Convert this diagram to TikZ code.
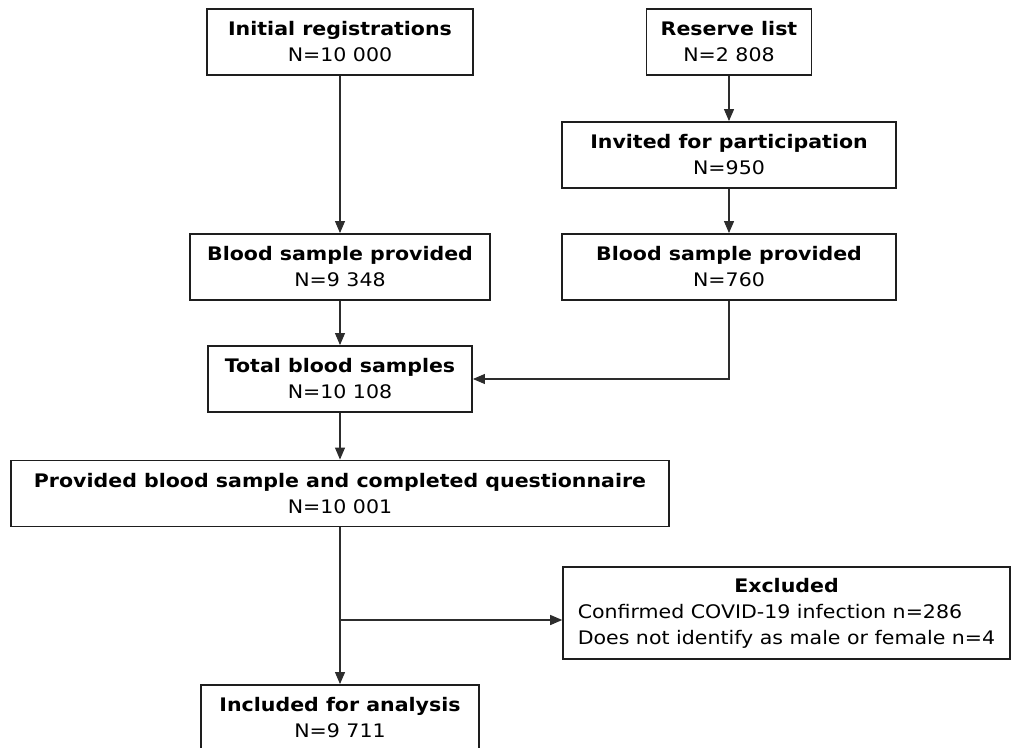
\documentclass[tikz,border=0pt]{standalone}
\usepackage{fontspec}
\setmainfont{DejaVu Sans}[FakeStretch=1.1]
\usetikzlibrary{arrows.meta}
\definecolor{boxline}{RGB}{30,30,30}
\definecolor{conline}{RGB}{45,45,45}
\tikzset{
  box/.style={draw=boxline,line width=1.4pt,align=center,inner sep=0pt,minimum height=49.5pt,font=\fontsize{14}{19.5}\selectfont},
  arr/.style={conline,line width=0.8pt,-{Triangle[length=9pt,width=7.5pt]}},
  con/.style={conline,line width=0.8pt},
  every picture/.style={x=0.75pt,y=-0.75pt}
}
\begin{document}
\begin{tikzpicture}
  \useasboundingbox (0,0) rectangle (1019,748);
  \node[box,minimum width=199.5pt] (init) at (340,42) {\textbf{Initial registrations}\\N=10 000};
  \node[box,minimum width=123.75pt] (reserve) at (729,42) {\textbf{Reserve list}\\N=2 808};
  \node[box,minimum width=250.5pt] (invited) at (729,155) {\textbf{Invited for participation}\\N=950};
  \node[box,minimum width=225pt] (bloodl) at (340,267) {\textbf{Blood sample provided}\\N=9 348};
  \node[box,minimum width=250.5pt] (bloodr) at (729,267) {\textbf{Blood sample provided}\\N=760};
  \node[box,minimum width=198pt] (total) at (340,379) {\textbf{Total blood samples}\\N=10 108};
  \node[box,minimum width=493.5pt] (provided) at (340,493.5) {\textbf{Provided blood sample and completed questionnaire}\\N=10 001};
  \node[box,minimum width=335pt,minimum height=69pt] (excluded) at (786.5,613) {\begin{tabular}{@{}l@{}}\multicolumn{1}{@{}c@{}}{\textbf{Excluded}}\\Confirmed COVID-19 infection n=286\\Does not identify as male or female n=4\end{tabular}};
  \node[box,minimum width=208.5pt] (included) at (340,718) {\textbf{Included for analysis}\\N=9 711};
  \coordinate (split) at (340,620);
  \draw[arr] (init) -- (bloodl);
  \draw[arr] (reserve) -- (invited);
  \draw[arr] (invited) -- (bloodr);
  \draw[arr] (bloodl) -- (total);
  \draw[arr] (bloodr.south) |- (total.east);
  \draw[arr] (total) -- (provided);
  \draw[arr] (provided) -- (included);
  \draw[arr] (split) -- (split -| excluded.west);
\end{tikzpicture}
\end{document}
